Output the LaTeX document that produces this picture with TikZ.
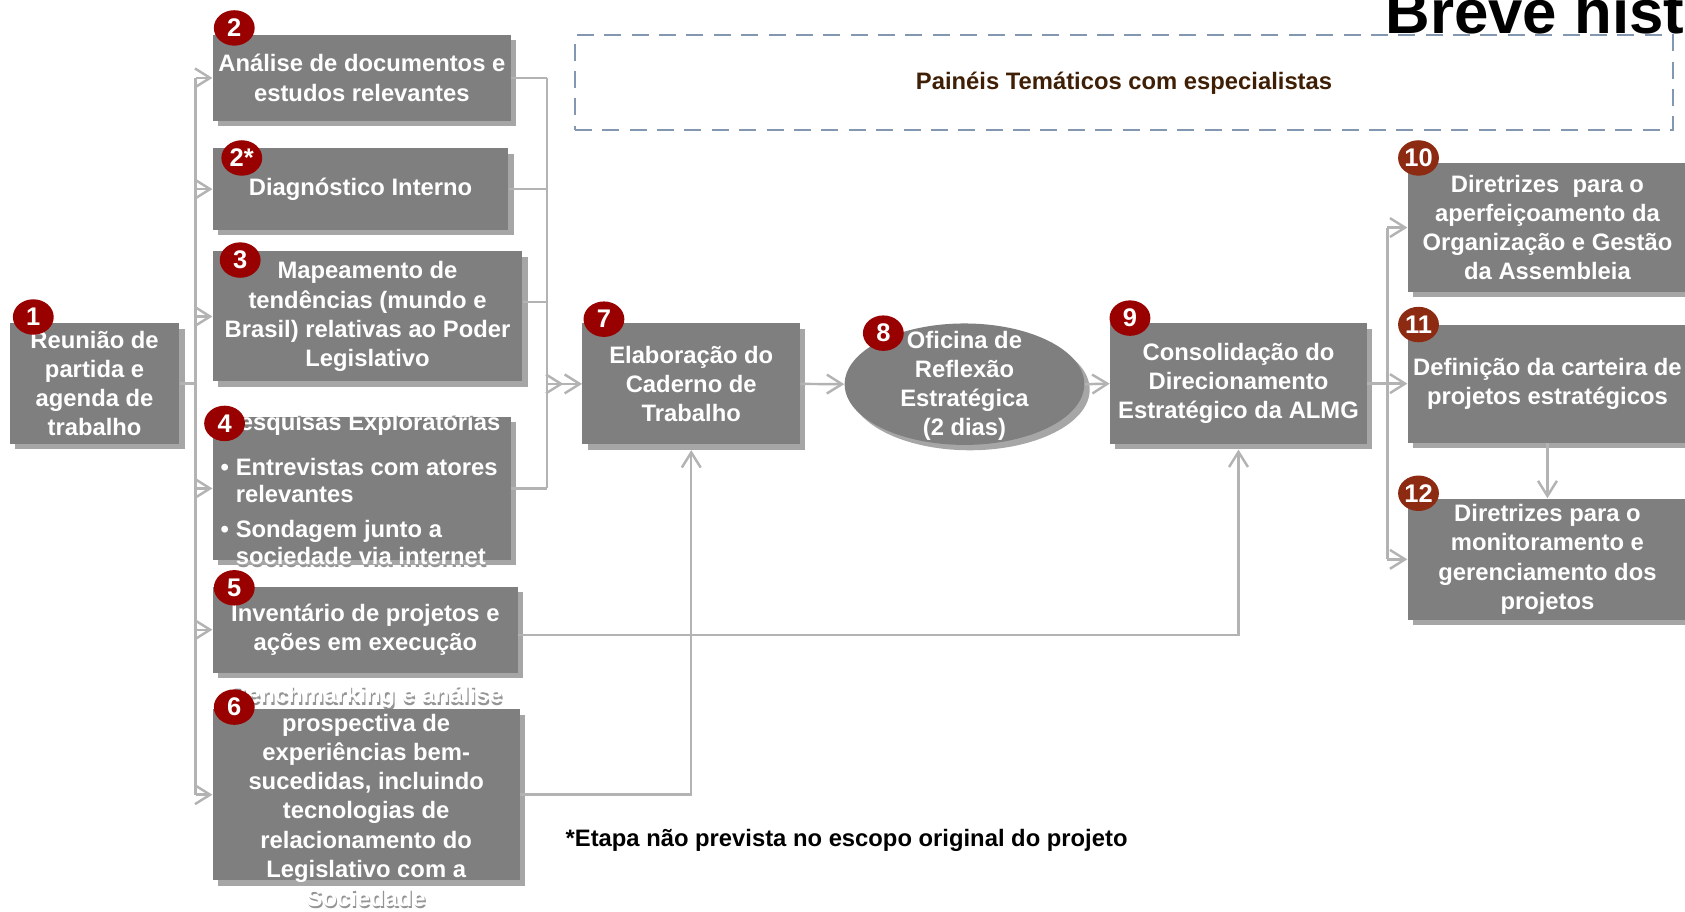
\documentclass[tikz,border=0pt]{standalone}
\usepackage{fontspec}
\setmainfont{Liberation Sans}
\usetikzlibrary{arrows.meta, shapes.geometric, shadows}

\definecolor{boxgray}{HTML}{7F7F7F}
\definecolor{shadegray}{HTML}{A6A6A6}
\definecolor{linegray}{HTML}{B3B3B3}
\definecolor{numred}{HTML}{990000}
\definecolor{numbrown}{HTML}{8C2A12}
\definecolor{panelblue}{HTML}{8497B0}
\definecolor{paneltext}{HTML}{3F1F05}

\tikzset{
  etapa/.style={fill=boxgray, text=white, inner sep=0pt, align=center,
    font=\bfseries\fontsize{12.6}{15.4}\selectfont,
    drop shadow={shadow xshift=0.1cm, shadow yshift=-0.1cm, fill=shadegray, opacity=1}},
  rotulo/.style={text=white, inner sep=0pt, align=center, font=\bfseries\fontsize{12.6}{15.4}\selectfont},
  fantasma/.style={text=black!42, xshift=0.6pt, yshift=-1.5pt},
  num/.style={ellipse, fill=numred, text=white, minimum width=0.76cm, minimum height=0.66cm,
    inner sep=0pt, font=\bfseries\fontsize{13.5}{14}\selectfont},
  liga/.style={draw=linegray, line width=1.3pt},
  seta/.style={liga, -{Straight Barb[length=8pt, width=10pt]}},
}

\begin{document}
\begin{tikzpicture}[x=0.2mm, y=-0.2mm]
    \useasboundingbox (0,0) rectangle (1568,848);
    \clip (0,0) rectangle (1568,848);
    \coordinate (esq) at (182,0);
    \coordinate (col) at (509,0);
    \coordinate (dir) at (1291,0);
    % title and panel
    \node[anchor=base west, inner sep=0pt, font=\bfseries\fontsize{32.7}{36}\selectfont] (tit) at (1289,31) {Breve hist};
    \node[draw=panelblue, dash pattern=on 9pt off 5.5pt, line width=1.1pt, minimum width=20.44cm, minimum height=1.77cm,
      text=paneltext, font=\bfseries\fontsize{12.6}{15.4}\selectfont] (pn) at (1046,77) {Painéis Temáticos com especialistas};
    % text shadows seen outside boxes 4 and 6
    \node[rotulo, fantasma] at (337,395) {Pesquisas Exploratórias};
    \node[rotulo, fantasma, align=left, anchor=west, font=\bfseries\fontsize{12.6}{14.5}\selectfont] at (205,476)
      {\makebox[8pt][l]{\textbullet}Entrevistas com atores\\\hspace*{8pt}relevantes\\[4pt]\makebox[8pt][l]{\textbullet}Sondagem junto a\\\hspace*{8pt}sociedade via internet};
    \node[rotulo, fantasma] at (340.75,740.5) {Benchmarking e análise\\prospectiva de\\experiências bem-\\sucedidas, incluindo\\tecnologias de\\relacionamento do\\Legislativo com a\\Sociedade};
    % steps
    \node[etapa, minimum width=3.16cm, minimum height=2.24cm] (b1) at (88,357) {Reunião de\\partida e\\agenda de\\trabalho};
    \node[etapa, minimum width=5.55cm, minimum height=1.6cm] (b2) at (336.75,72.5) {Análise de documentos e\\estudos relevantes};
    \node[etapa, minimum width=5.5cm, minimum height=1.52cm] (b2s) at (335.5,176) {Diagnóstico Interno};
    \node[etapa, minimum width=5.76cm, minimum height=2.42cm] (b3) at (342,294.5) {Mapeamento de\\tendências (mundo e\\Brasil) relativas ao Poder\\Legislativo};
    \node[etapa, minimum width=5.55cm, minimum height=2.66cm] (b4) at (336.75,454.5) {};
    \node[etapa, minimum width=5.68cm, minimum height=1.6cm] (b5) at (340,586) {Inventário de projetos e\\ações em execução};
    \node[etapa, minimum width=5.71cm, minimum height=3.18cm] (b6) at (340.75,739.5) {};
    \node[etapa, minimum width=4.05cm, minimum height=2.25cm] (b7) at (643.25,357.25) {Elaboração do\\Caderno de\\Trabalho};
    \node[etapa, ellipse, minimum width=4.46cm, minimum height=2.26cm] (b8) at (897.5,357.5) {};
    \node[etapa, minimum width=4.78cm, minimum height=2.24cm] (b9) at (1152.5,357) {Consolidação do\\Direcionamento\\Estratégico da ALMG};
    \node[etapa, minimum width=5.2cm, minimum height=2.39cm] (b10) at (1440,211.75) {Diretrizes~ para o\\aperfeiçoamento da\\Organização e Gestão\\da Assembleia};
    \node[etapa, minimum width=5.2cm, minimum height=2.2cm] (b11) at (1440,357) {Definição da carteira de\\projetos estratégicos};
    \node[etapa, minimum width=5.2cm, minimum height=2.26cm] (b12) at (1440,520.5) {Diretrizes para o\\monitoramento e\\gerenciamento dos\\projetos};
    \node[rotulo] (t4) at (337,395) {Pesquisas Exploratórias};
    \node[rotulo, align=left, anchor=west, font=\bfseries\fontsize{12.6}{14.5}\selectfont] (t4b) at (205,476)
      {\makebox[8pt][l]{\textbullet}Entrevistas com atores\\\hspace*{8pt}relevantes\\[4pt]\makebox[8pt][l]{\textbullet}Sondagem junto a\\\hspace*{8pt}sociedade via internet};
    \node[rotulo] (t6) at (340.75,740.5) {Benchmarking e análise\\prospectiva de\\experiências bem-\\sucedidas, incluindo\\tecnologias de\\relacionamento do\\Legislativo com a\\Sociedade};
    \node[rotulo] (t8) at (897.5,359) {Oficina de\\Reflexão\\Estratégica\\(2 dias)};
    % connectors
    \draw[liga] (b1.east) -- (b1.east -| esq);
    \draw[liga] (b2.west -| esq) -- (b6.west -| esq);
    \foreach \b in {b2,b2s,b3,b4,b5,b6}
      \draw[seta] (\b.west -| esq) -- (\b.west);
    \foreach \b in {b2,b2s,b4}
      \draw[liga] (\b.east) -- (\b.east -| col);
    \draw[liga] ([yshift=0.27cm]b3.east) -- ([yshift=0.27cm]b3.east -| col);
    \draw[liga] (b2.east -| col) -- (b4.east -| col);
    \draw[liga, -{Straight Barb[length=8pt, width=10pt] Straight Barb[length=8pt, width=10pt]}] (b7.west -| col) -- (b7.west);
    \draw[seta] (b7.east) -- (b8.west);
    \draw[seta] (b8.east) -- (b9.west);
    \draw[seta] (b9.east) -- (b11.west);
    \draw[liga] (b10.west -| dir) -- (b12.west -| dir);
    \draw[seta] (b10.west -| dir) -- (b10.west);
    \draw[seta] (b12.west -| dir) -- (b12.west);
    \draw[seta] (b11.south) -- (b12.north);
    \draw[seta, shorten >=0.1cm] ([yshift=-0.1cm]b5.east) -| (b9.south);
    \draw[seta, shorten >=0.1cm] (b6.east) -| (b7.south);
    % badges
    \node[num] (n1) at (31,295) {1};
    \node[num] (n2) at (218,26) {2};
    \node[num] (n2s) at (225,147) {2*};
    \node[num] (n3) at (223.5,242) {3};
    \node[num] (n4) at (209,394) {4};
    \node[num] (n5) at (218,547) {5};
    \node[num] (n6) at (218,658) {6};
    \node[num] (n7) at (562,297) {7};
    \node[num] (n8) at (822,310) {8};
    \node[num] (n9) at (1051.5,296) {9};
    \node[num, fill=numbrown] (n10) at (1320,147) {10};
    \node[num, fill=numbrown] (n11) at (1320,302) {11};
    \node[num, fill=numbrown] (n12) at (1320,459) {12};
    % footnote
    \node[anchor=west, inner sep=0pt, font=\bfseries\fontsize{12.6}{15.4}\selectfont] (nota) at (526,782) {*Etapa não prevista no escopo original do projeto};
\end{tikzpicture}
\end{document}
